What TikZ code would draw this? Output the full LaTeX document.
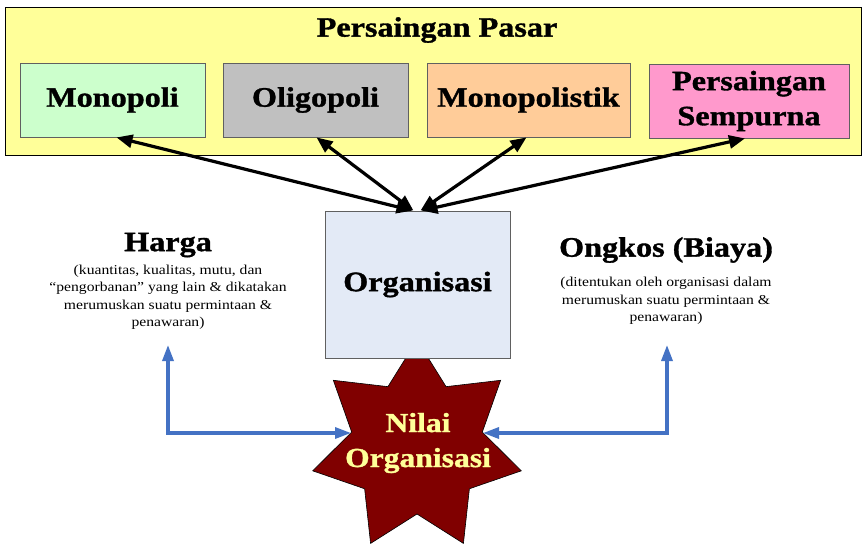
\documentclass[tikz,border=0pt]{standalone}
\usepackage{fontspec}
\usetikzlibrary{arrows.meta,calc}
\newfontfamily\camb[FakeStretch=1.15,FakeBold=1.2]{Liberation Serif}
\newfontfamily\cambr[FakeStretch=1.15]{Liberation Serif}
\definecolor{bgyellow}{HTML}{FFFF99}
\definecolor{cgreen}{HTML}{CCFFCC}
\definecolor{cgray}{HTML}{C0C0C0}
\definecolor{corange}{HTML}{FFCC99}
\definecolor{cpink}{HTML}{FF99CC}
\definecolor{corg}{HTML}{E3EAF6}
\definecolor{cstar}{HTML}{800000}
\definecolor{cblue}{HTML}{4472C4}
\definecolor{cborder}{HTML}{606060}
\tikzset{
  market/.style={draw=cborder, line width=0.8pt, minimum height=74pt, inner sep=0pt, align=center,
     font=\camb\bfseries\fontsize{28}{35}\selectfont},
  blackarr/.style={line width=3.2pt, {Triangle[length=16pt,width=13pt]}-{Triangle[length=16pt,width=13pt]}},
  bluearr/.style={cblue, line width=3.2pt, {Triangle[length=16pt,width=11pt]}-{Triangle[length=16pt,width=11pt]}},
  bigtitle/.style={font=\camb\bfseries\fontsize{28}{32}\selectfont, inner sep=0pt},
  subtext/.style={font=\cambr\fontsize{13.6}{17.5}\selectfont, align=center, inner sep=0pt},
}
\begin{document}
\begin{tikzpicture}[x=1pt,y=-1pt]
\useasboundingbox (0,0) rectangle (866,544);
\fill[white] (0,0) rectangle (866,544);
% outer yellow box
\node[draw=black, line width=1pt, fill=bgyellow, minimum width=856pt, minimum height=148pt, inner sep=0pt] (pasar) at (433,81) {};
\node[font=\camb\bfseries\fontsize{28}{30}\selectfont, inner sep=0pt] (ptitle) at (437,30) {Persaingan Pasar};
% market boxes
\node[market, fill=cgreen, minimum width=185pt] (mono) at (112.5,100) {Monopoli};
\node[market, fill=cgray, minimum width=185pt] (oligo) at (315.5,100) {Oligopoli};
\node[market, fill=corange, minimum width=203pt] (monop) at (528.5,100) {Monopolistik};
\node[market, fill=cpink, minimum width=200pt] (psem) at (749,101) {Persaingan\\Sempurna};
% star (behind the organisation box)
\begin{scope}[shift={(417,447)}]
\draw[fill=cstar, draw=black, line width=0.6pt] (-90:107) -- (-64.29:67) -- (-38.57:107) -- (-12.86:67) -- (12.86:107) -- (38.57:67) -- (64.29:107) -- (90:67) -- (115.71:107) -- (141.43:67) -- (167.14:107) -- (192.86:67) -- (218.57:107) -- (244.29:67) -- cycle;
\end{scope}
\node[font=\camb\bfseries\fontsize{27.5}{35}\selectfont, text=bgyellow, align=center, inner sep=0pt] (nilai) at (418,443) {Nilai\\Organisasi};
% organisation box
\node[draw=cborder, line width=0.8pt, fill=corg, minimum width=185pt, minimum height=147pt, inner sep=0pt,
      font=\camb\bfseries\fontsize{28}{32}\selectfont] (org) at (417.5,284.5) {Organisasi};
% black arrows
\draw[blackarr] ([xshift=4pt]mono.south) -- ([xshift=-5pt]org.north);
\draw[blackarr] ([xshift=1pt]oligo.south) -- ([xshift=-4pt]org.north);
\draw[blackarr] ([xshift=-2pt]monop.south) -- ([xshift=3pt]org.north);
\draw[blackarr] ([xshift=-4pt]psem.south) -- ([xshift=4pt]org.north);
% Harga
\node[bigtitle] (harga) at (168,245) {Harga};
\node[subtext] (hsub) at (168,297) {(kuantitas, kualitas, mutu, dan\\“pengorbanan” yang lain \& dikatakan\\merumuskan suatu permintaan \&\\penawaran)};
% Ongkos
\node[bigtitle] (ongkos) at (666,250) {Ongkos (Biaya)};
\node[subtext] (osub) at (666,301) {(ditentukan oleh organisasi dalam\\merumuskan suatu permintaan \&\\penawaran)};
% blue connectors
\coordinate (hl) at (168,345);
\coordinate (nl) at (351,433);
\coordinate (ol) at (667,345);
\coordinate (nr) at (483,433);
\draw[bluearr] (nl) -- (nl -| hl) -- (hl);
\draw[bluearr] (nr) -- (nr -| ol) -- (ol);
\end{tikzpicture}
\end{document}
